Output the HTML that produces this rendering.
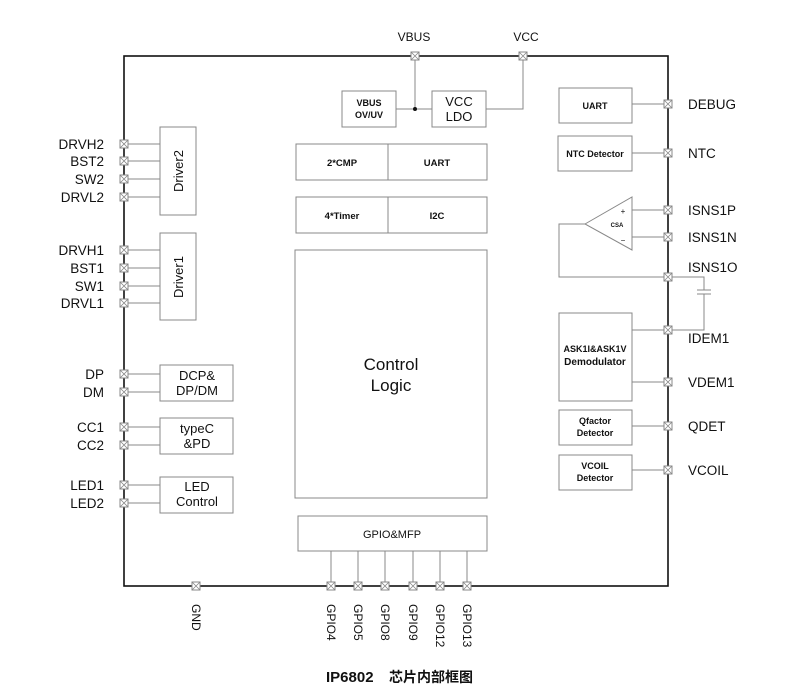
<!DOCTYPE html>
<html><head><meta charset="utf-8"><style>
html,body{margin:0;padding:0;background:#fff;}
svg{display:block;}
text{font-family:"Liberation Sans","Noto Sans CJK SC",sans-serif;fill:#111;}
.b{font-weight:bold;}
</style></head><body>
<svg width="800" height="700" viewBox="0 0 800 700" xmlns="http://www.w3.org/2000/svg">
<defs>
<g id="p"><rect x="-4" y="-4" width="8" height="8" fill="#fff" stroke="#888" stroke-width="1"/><path d="M-4 -4L4 4M4 -4L-4 4" stroke="#888" stroke-width="0.8"/></g>
</defs>
<rect x="124" y="56" width="544" height="530" fill="none" stroke="#111" stroke-width="1.6"/>
<g stroke="#888" stroke-width="1" fill="none">
<path d="M124 144H160M124 161H160M124 179H160M124 197H160M124 250H160M124 268H160M124 286H160M124 303H160M124 374H160M124 392H160M124 427H160M124 445H160M124 485H160M124 503H160"/>
<rect x="160" y="127" width="36" height="88"/>
<rect x="160" y="233" width="36" height="87"/>
<rect x="160" y="365" width="73" height="36"/>
<rect x="160" y="418" width="73" height="36"/>
<rect x="160" y="477" width="73" height="36"/>
<rect x="342" y="91" width="54" height="36"/>
<rect x="432" y="91" width="54" height="36"/>
<path d="M396 109H432M415 56V109M486 109H523V56"/>
<rect x="296" y="144" width="191" height="36"/><path d="M388 144V180"/>
<rect x="296" y="197" width="191" height="36"/><path d="M388 197V233"/>
<rect x="295" y="250" width="192" height="248"/>
<rect x="298" y="516" width="189" height="35"/>
<path d="M331 551V586M358 551V586M385 551V586M413 551V586M440 551V586M467 551V586"/>
<rect x="559" y="88" width="73" height="35"/>
<rect x="558" y="136" width="74" height="35"/>
<rect x="559" y="313" width="73" height="88"/>
<rect x="559" y="410" width="73" height="35"/>
<rect x="559" y="455" width="73" height="35"/>
<path d="M632 104H668M632 153H668M632 210H668M632 237H668M632 382H668M632 426H668M632 470H668M632 330H704V294M704 290V277H559V224H585"/>
<path d="M585 224L632 197V250Z"/>
<path d="M697 290H711M697 294H711"/>
</g>
<circle cx="415" cy="109" r="2" fill="#111"/>
<g>
<use href="#p" x="124" y="144"/><use href="#p" x="124" y="161"/><use href="#p" x="124" y="179"/><use href="#p" x="124" y="197"/>
<use href="#p" x="124" y="250"/><use href="#p" x="124" y="268"/><use href="#p" x="124" y="286"/><use href="#p" x="124" y="303"/>
<use href="#p" x="124" y="374"/><use href="#p" x="124" y="392"/><use href="#p" x="124" y="427"/><use href="#p" x="124" y="445"/>
<use href="#p" x="124" y="485"/><use href="#p" x="124" y="503"/>
<use href="#p" x="415" y="56"/><use href="#p" x="523" y="56"/>
<use href="#p" x="196" y="586"/><use href="#p" x="331" y="586"/><use href="#p" x="358" y="586"/><use href="#p" x="385" y="586"/><use href="#p" x="413" y="586"/><use href="#p" x="440" y="586"/><use href="#p" x="467" y="586"/>
<use href="#p" x="668" y="104"/><use href="#p" x="668" y="153"/><use href="#p" x="668" y="210"/><use href="#p" x="668" y="237"/><use href="#p" x="668" y="277"/><use href="#p" x="668" y="330"/><use href="#p" x="668" y="382"/><use href="#p" x="668" y="426"/><use href="#p" x="668" y="470"/>
</g>
<g font-size="13.5" text-anchor="end">
<text x="104" y="149">DRVH2</text><text x="104" y="166">BST2</text><text x="104" y="184">SW2</text><text x="104" y="202">DRVL2</text>
<text x="104" y="255">DRVH1</text><text x="104" y="273">BST1</text><text x="104" y="291">SW1</text><text x="104" y="308">DRVL1</text>
<text x="104" y="379">DP</text><text x="104" y="397">DM</text><text x="104" y="432">CC1</text><text x="104" y="450">CC2</text>
<text x="104" y="490">LED1</text><text x="104" y="508">LED2</text>
</g>
<g font-size="13.5">
<text x="688" y="109">DEBUG</text><text x="688" y="158">NTC</text><text x="688" y="215">ISNS1P</text><text x="688" y="242">ISNS1N</text><text x="688" y="272">ISNS1O</text><text x="688" y="343">IDEM1</text><text x="688" y="387">VDEM1</text><text x="688" y="431">QDET</text><text x="688" y="475">VCOIL</text>
</g>
<g font-size="12" text-anchor="middle">
<text x="414" y="41">VBUS</text><text x="526" y="41">VCC</text>
</g>
<g font-size="13" text-anchor="middle">
<text transform="translate(183,171) rotate(-90)">Driver2</text>
<text transform="translate(183,277) rotate(-90)">Driver1</text>
<text x="197" y="380">DCP&amp;</text><text x="197" y="395">DP/DM</text>
<text x="197" y="433">typeC</text><text x="197" y="448">&amp;PD</text>
<text x="197" y="491">LED</text><text x="197" y="506">Control</text>
<text x="459" y="106" font-size="13">VCC</text><text x="459" y="121" font-size="13">LDO</text>
<text class="b" x="369" y="106" font-size="9">VBUS</text><text class="b" x="369" y="118" font-size="9">OV/UV</text>
<text class="b" x="342" y="166" font-size="9.5">2*CMP</text><text class="b" x="437" y="166" font-size="9.5">UART</text>
<text class="b" x="342" y="219" font-size="9.5">4*Timer</text><text class="b" x="437" y="219" font-size="9.5">I2C</text>
<text x="391" y="370" font-size="17">Control</text><text x="391" y="391" font-size="17">Logic</text>
<text x="392" y="538" font-size="11">GPIO&amp;MFP</text>
<text class="b" x="595" y="109" font-size="9">UART</text>
<text class="b" x="595" y="157" font-size="9">NTC Detector</text>
<text class="b" x="595" y="352" font-size="9">ASK1I&amp;ASK1V</text><text class="b" x="595" y="365" font-size="10">Demodulator</text>
<text class="b" x="595" y="424" font-size="9">Qfactor</text><text class="b" x="595" y="436" font-size="9">Detector</text>
<text class="b" x="595" y="469" font-size="9">VCOIL</text><text class="b" x="595" y="481" font-size="9">Detector</text>
<text x="617" y="227" font-size="6" font-family="Liberation Serif" font-weight="bold">CSA</text>
<text x="623" y="214" font-size="8" fill="#666">+</text><text x="623" y="243" font-size="8" fill="#666">−</text>
</g>
<g font-size="12">
<text transform="translate(192,604) rotate(90)">GND</text>
<text transform="translate(327,604) rotate(90)">GPIO4</text>
<text transform="translate(354,604) rotate(90)">GPIO5</text>
<text transform="translate(381,604) rotate(90)">GPIO8</text>
<text transform="translate(409,604) rotate(90)">GPIO9</text>
<text transform="translate(436,604) rotate(90)">GPIO12</text>
<text transform="translate(463,604) rotate(90)">GPIO13</text>
</g>
<text x="326" y="682" font-size="15" font-weight="bold">IP6802</text>
<text x="389" y="682" font-size="14" font-weight="bold">芯片内部框图</text>
</svg>
</body></html>
